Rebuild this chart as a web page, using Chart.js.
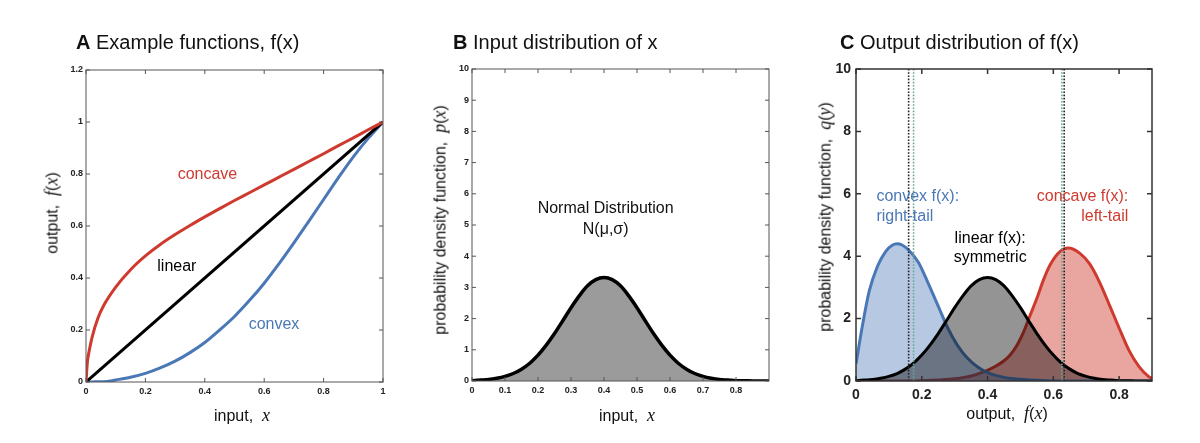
<!DOCTYPE html>
<html lang="en">
<head>
<meta charset="UTF-8" />
<title>Function shape and output distribution</title>
<script src="https://cdn.jsdelivr.net/npm/chart.js"></script>
<style>
  body { margin: 0; background: #fff; font-family: "Liberation Sans", Arial, sans-serif; }
  #wrap { position: relative; width: 1200px; height: 443px; overflow: hidden; }
  canvas { position: absolute; top: 0; }
  .title { position: absolute; top: 30px; font-size: 20px; line-height: 24px; color: #111; white-space: nowrap; }
  .axlab { position: absolute; font-size: 16px; line-height: 20px; color: #111; white-space: nowrap; transform: translate(-50%, -50%); }
  .axlab.rot { transform: translate(-50%, -50%) rotate(-90deg); }
  .axlab i { font-family: "Liberation Serif", serif; font-size: 18px; }
</style>
</head>
<body>
<div id="wrap">
  <canvas id="chartA" width="400" height="443" style="left:0"></canvas>
  <canvas id="chartB" width="400" height="443" style="left:400px"></canvas>
  <canvas id="chartC" width="400" height="443" style="left:800px"></canvas>

  <div class="title" style="left:76px"><b>A</b> Example functions, f(x)</div>
  <div class="title" style="left:453px"><b>B</b> Input distribution of x</div>
  <div class="title" style="left:840px"><b>C</b> Output distribution of f(x)</div>

  <div class="axlab" style="left:242px;top:415px">input,&nbsp; <i>x</i></div>
  <div class="axlab rot" style="left:52px;top:213px">output,&nbsp; <i>f</i>(<i>x</i>)</div>
  <div class="axlab" style="left:627px;top:415px">input,&nbsp; <i>x</i></div>
  <div class="axlab rot" style="left:440px;top:220px">probability density function,&nbsp; <i>p</i>(<i>x</i>)</div>
  <div class="axlab" style="left:1007px;top:413px">output,&nbsp; <i>f</i>(<i>x</i>)</div>
  <div class="axlab rot" style="left:825px;top:217px">probability density function,&nbsp; <i>q</i>(<i>y</i>)</div>
</div>

<script>
  // panel A: example functions
  const aX       = [0, 0.005, 0.01, 0.02, 0.04, 0.06, 0.1, 0.15, 0.2, 0.25, 0.3, 0.35, 0.4, 0.45, 0.5, 0.55, 0.6, 0.65, 0.7, 0.75, 0.8, 0.85, 0.9, 0.95, 1];
  const aConcave = [0, 0.08, 0.115, 0.17, 0.245, 0.295, 0.365, 0.432, 0.485, 0.529, 0.567, 0.602, 0.635, 0.667, 0.698, 0.728, 0.758, 0.788, 0.818, 0.848, 0.878, 0.909, 0.939, 0.97, 1];
  const aConvex  = [0, 0, 0, 0, 0.001, 0.001, 0.008, 0.018, 0.033, 0.054, 0.08, 0.113, 0.152, 0.2, 0.252, 0.313, 0.38, 0.455, 0.535, 0.618, 0.702, 0.786, 0.866, 0.937, 1];
  const aLinearX = [0, 1];
  const aLinear  = [0, 1];
  const aTicksX  = [0, 0.2, 0.4, 0.6, 0.8, 1];
  const aTicksY  = [0, 0.2, 0.4, 0.6, 0.8, 1, 1.2];

  // panel B: input distribution
  const bX       = [0, 0.025, 0.05, 0.075, 0.1, 0.125, 0.15, 0.175, 0.2, 0.225, 0.25, 0.275, 0.3, 0.325, 0.35, 0.375, 0.4,
                    0.425, 0.45, 0.475, 0.5, 0.525, 0.55, 0.575, 0.6, 0.625, 0.65, 0.675, 0.7, 0.725, 0.75, 0.775, 0.8, 0.825, 0.85, 0.875, 0.9];
  const bDensity = [0.01, 0.03, 0.05, 0.09, 0.15, 0.24, 0.38, 0.57, 0.83, 1.15, 1.52, 1.93, 2.35, 2.73, 3.05, 3.25, 3.32,
                    3.25, 3.05, 2.73, 2.35, 1.93, 1.52, 1.15, 0.83, 0.57, 0.38, 0.24, 0.15, 0.09, 0.05, 0.03, 0.01, 0.01, 0, 0, 0];
  const bTicksX  = [0, 0.1, 0.2, 0.3, 0.4, 0.5, 0.6, 0.7, 0.8];
  const bTicksY  = [0, 1, 2, 3, 4, 5, 6, 7, 8, 9, 10];

  // panel C: output distributions
  const cConvexX  = [0, 0.02, 0.04, 0.065, 0.09, 0.11, 0.125, 0.14, 0.16, 0.19, 0.22, 0.25, 0.28, 0.31, 0.34, 0.37, 0.4, 0.44, 0.48, 0.53, 0.58, 0.65, 0.75, 0.9];
  const cConvexY  = [0.55, 1.8, 2.87, 3.67, 4.15, 4.35, 4.4, 4.36, 4.2, 3.8, 3.12, 2.4, 1.68, 1.12, 0.72, 0.45, 0.27, 0.14, 0.07, 0.03, 0.01, 0, 0, 0];
  const cConcaveX = [0, 0.1, 0.2, 0.25, 0.3, 0.35, 0.39, 0.42, 0.45, 0.47, 0.49, 0.51, 0.53, 0.55, 0.57, 0.59, 0.62, 0.645, 0.68, 0.71, 0.74, 0.77, 0.8, 0.83, 0.86, 0.89, 0.9];
  const cConcaveY = [0, 0, 0.01, 0.03, 0.07, 0.16, 0.3, 0.45, 0.65, 0.85, 1.15, 1.58, 2.12, 2.65, 3.24, 3.72, 4.15, 4.26, 4.1, 3.76, 3.18, 2.45, 1.7, 0.98, 0.47, 0.14, 0.09];
  const cLinearX  = bX;
  const cLinearY  = bDensity;
  const cMeanDark  = [0.16, 0.633];
  const cMeanGreen = [0.175, 0.626];
  const cTicksX   = [0, 0.2, 0.4, 0.6, 0.8];
  const cTicksY   = [0, 2, 4, 6, 8, 10];

  const RED = '#cf3a2f', BLUE = '#4a78b6';

  const pts = (xs, ys) => xs.map((x, i) => ({ x, y: ys[i] }));

  function curve(xs, ys, color, extra) {
    return Object.assign({
      data: pts(xs, ys), borderColor: color, borderWidth: 3, pointRadius: 0,
      fill: false, cubicInterpolationMode: 'monotone'
    }, extra || {});
  }

  function frameTicks(o) {
    return {
      id: 'frameTicks',
      afterDatasetsDraw(chart) {
        const { ctx, chartArea: a, scales: { x, y } } = chart;
        ctx.save();
        ctx.strokeStyle = o.color;
        ctx.lineWidth = o.width;
        ctx.beginPath();
        x.ticks.forEach(t => {
          const px = x.getPixelForValue(t.value);
          ctx.moveTo(px, a.bottom); ctx.lineTo(px, a.bottom - o.len);
          ctx.moveTo(px, a.top);    ctx.lineTo(px, a.top + o.len);
        });
        y.ticks.forEach(t => {
          const py = y.getPixelForValue(t.value);
          ctx.moveTo(a.left, py);  ctx.lineTo(a.left + o.len, py);
          ctx.moveTo(a.right, py); ctx.lineTo(a.right - o.len, py);
        });
        ctx.stroke();
        ctx.strokeRect(a.left, a.top, a.right - a.left, a.bottom - a.top);
        ctx.restore();
      }
    };
  }

  function notes(items) {
    return {
      id: 'notes',
      afterDatasetsDraw(chart) {
        const { ctx, scales: { x, y } } = chart;
        ctx.save();
        ctx.textBaseline = 'middle';
        items.forEach(n => {
          ctx.font = n.font || '16px "Liberation Sans", Arial, sans-serif';
          ctx.fillStyle = n.color;
          ctx.textAlign = n.align || 'center';
          ctx.fillText(n.text, x.getPixelForValue(n.x), y.getPixelForValue(n.y));
        });
        ctx.restore();
      }
    };
  }

  function panel(id, datasets, o) {
    const axis = (min, max, ticks, pad, fit) => ({
      type: 'linear', min, max,
      afterBuildTicks: s => { s.ticks = ticks.map(v => ({ value: v })); },
      afterFit: fit,
      grid: { display: false, drawTicks: false },
      border: { display: false },
      ticks: { callback: v => String(v), font: o.tickFont, color: '#222', padding: pad, maxRotation: 0, autoSkip: false }
    });
    return new Chart(document.getElementById(id), {
      type: 'line',
      data: { datasets },
      options: {
        responsive: false, animation: false, events: [],
        layout: { padding: { top: o.top, right: o.right, left: 0, bottom: 0 } },
        plugins: { legend: { display: false }, tooltip: { enabled: false } },
        scales: {
          x: axis(o.xMin, o.xMax, o.xTicks, o.xPad, s => { s.height = o.xAxisH; }),
          y: axis(o.yMin, o.yMax, o.yTicks, o.yPad, s => { s.width = o.yAxisW; })
        }
      },
      plugins: [frameTicks(o.frame), notes(o.notes)]
    });
  }

  const smallTicks = { family: '"Liberation Sans", Arial, sans-serif', size: 9, weight: 'bold' };
  const bigTicks   = { family: '"Liberation Sans", Arial, sans-serif', size: 14, weight: 'bold' };

  panel('chartA', [
    curve(aX, aConcave, RED),
    curve(aLinearX, aLinear, '#000'),
    curve(aX, aConvex, BLUE)
  ], {
    top: 70, right: 17, xAxisH: 61, yAxisW: 86,
    xMin: 0, xMax: 1, yMin: 0, yMax: 1.2, xTicks: aTicksX, yTicks: aTicksY,
    xPad: 4, yPad: 3, tickFont: smallTicks,
    frame: { color: '#555', width: 1, len: 4 },
    notes: [
      { text: 'concave', x: 0.409, y: 0.797, color: RED },
      { text: 'linear', x: 0.306, y: 0.443, color: '#000' },
      { text: 'convex', x: 0.633, y: 0.219, color: BLUE }
    ]
  });

  panel('chartB', [
    curve(bX, bDensity, '#000', { fill: 'origin', backgroundColor: '#9b9b9b', borderWidth: 3.5 })
  ], {
    top: 69, right: 31, xAxisH: 62, yAxisW: 72,
    xMin: 0, xMax: 0.9, yMin: 0, yMax: 10, xTicks: bTicksX, yTicks: bTicksY,
    xPad: 4, yPad: 3, tickFont: smallTicks,
    frame: { color: '#555', width: 1, len: 4 },
    notes: [
      { text: 'Normal Distribution', x: 0.405, y: 5.51, color: '#111' },
      { text: 'N(μ,σ)', x: 0.405, y: 4.84, color: '#111' }
    ]
  });

  const marker = (v, color) => ({
    data: pts([v, v], [0, 10]), borderColor: color, borderWidth: 1.6,
    borderDash: [1.6, 1.6], pointRadius: 0, fill: false, order: -1
  });

  panel('chartC', [
    curve(cLinearX, cLinearY, '#000', { fill: 'origin', backgroundColor: 'rgba(0,0,0,0.42)' }),
    curve(cConvexX, cConvexY, BLUE, { fill: 'origin', backgroundColor: 'rgba(74,120,182,0.4)' }),
    curve(cConcaveX, cConcaveY, RED, { fill: 'origin', backgroundColor: 'rgba(207,58,47,0.45)' }),
    ...cMeanGreen.map(v => marker(v, '#6aa595')),
    ...cMeanDark.map(v => marker(v, '#222'))
  ], {
    top: 69, right: 48, xAxisH: 62, yAxisW: 56,
    xMin: 0, xMax: 0.9, yMin: 0, yMax: 10, xTicks: cTicksX, yTicks: cTicksY,
    xPad: 6, yPad: 5, tickFont: bigTicks,
    frame: { color: '#333', width: 1.5, len: 5 },
    notes: [
      { text: 'convex f(x):', x: 0.062, y: 5.91, color: BLUE, align: 'left' },
      { text: 'right-tail', x: 0.062, y: 5.27, color: BLUE, align: 'left' },
      { text: 'linear f(x):', x: 0.408, y: 4.58, color: '#000' },
      { text: 'symmetric', x: 0.408, y: 3.97, color: '#000' },
      { text: 'concave f(x):', x: 0.828, y: 5.91, color: RED, align: 'right' },
      { text: 'left-tail', x: 0.828, y: 5.27, color: RED, align: 'right' }
    ]
  });
</script>
</body>
</html>
